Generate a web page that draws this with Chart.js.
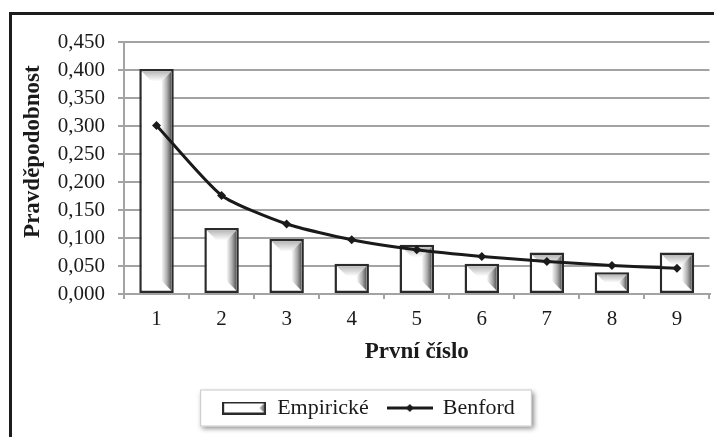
<!DOCTYPE html>
<html>
<head>
<meta charset="utf-8">
<script src="https://cdn.jsdelivr.net/npm/chart.js@4"></script>
<style>
  html, body { margin: 0; padding: 0; background: #fff; }
  #wrap { position: relative; width: 714px; height: 437px; overflow: hidden; }
  #frame { position: absolute; left: 9px; top: 12px; width: 740px; height: 460px;
           border-top: 3px solid #1c1c1c; border-left: 3px solid #1c1c1c; pointer-events: none; }
  canvas { position: absolute; left: 0; top: 0; }
</style>
</head>
<body>
<div id="wrap">
  <canvas id="chart" width="714" height="437"></canvas>
  <div id="frame"></div>
</div>
<script>
// First-digit distribution: observed shares vs. Benford's law
const categories = ['1', '2', '3', '4', '5', '6', '7', '8', '9'];
const empirical = [0.402, 0.118, 0.098, 0.054, 0.088, 0.054, 0.074, 0.039, 0.074];
const benford = [0.301, 0.176, 0.125, 0.097, 0.079, 0.067, 0.058, 0.051, 0.046];
const yTickLabels = ['0,000', '0,050', '0,100', '0,150', '0,200', '0,250', '0,300', '0,350', '0,400', '0,450'];
const seriesNames = ['Empirické', 'Benford'];
const xTitle = 'První číslo';
const yTitle = 'Pravděpodobnost';

const FONT = '"Liberation Serif", "Times New Roman", serif';
const INK = '#1a1a1a';
const GRID = '#a3a3a3';

// Small legend swatches drawn once on offscreen canvases
function barSwatch() {
  const c = document.createElement('canvas');
  c.width = 44; c.height = 13;
  const g = c.getContext('2d');
  g.fillStyle = '#2a2a2a'; g.fillRect(0, 0, 44, 13);
  g.fillStyle = '#fff'; g.fillRect(2, 2, 40, 9);
  const gr = g.createLinearGradient(35, 0, 42, 0);
  gr.addColorStop(0, '#ffffff'); gr.addColorStop(1, '#6a6a6a');
  g.fillStyle = gr;
  g.beginPath(); g.moveTo(42, 2); g.lineTo(42, 11); g.lineTo(37, 6.5); g.closePath(); g.fill();
  return c;
}
function lineSwatch() {
  const c = document.createElement('canvas');
  c.width = 46; c.height = 10;
  const g = c.getContext('2d');
  g.fillStyle = INK; g.fillRect(0, 3.5, 46, 3);
  g.beginPath(); g.moveTo(23, 1); g.lineTo(27, 5); g.lineTo(23, 9); g.lineTo(19, 5); g.closePath(); g.fill();
  return c;
}
const swatches = [barSwatch(), lineSwatch()];

// Bevelled look on the bars: shaded top and right edges inside the border
const bevelPlugin = {
  id: 'bevel',
  afterDatasetDraw(chart, args) {
    if (args.index !== 0) return;
    const ctx = chart.ctx;
    const bw = 2.5;
    args.meta.data.forEach(bar => {
      const p = bar.getProps(['x', 'y', 'base', 'width'], true);
      const l = p.x - p.width / 2 + bw, r = p.x + p.width / 2 - bw;
      const t = Math.min(p.y, p.base) + bw, btm = Math.max(p.y, p.base) - bw;
      const h = btm - t;
      if (h <= 0) return;
      const b = Math.min(10, h / 2, (r - l) / 2);
      ctx.save();
      let gr = ctx.createLinearGradient(0, t, 0, t + b);
      gr.addColorStop(0, '#b8b8b8'); gr.addColorStop(1, '#ffffff');
      ctx.fillStyle = gr;
      ctx.beginPath();
      ctx.moveTo(l, t); ctx.lineTo(r, t); ctx.lineTo(r - b, t + b); ctx.lineTo(l + b, t + b);
      ctx.closePath(); ctx.fill();
      gr = ctx.createLinearGradient(r - b, 0, r, 0);
      gr.addColorStop(0, '#ffffff'); gr.addColorStop(0.55, '#b0b0b0'); gr.addColorStop(1, '#555555');
      ctx.fillStyle = gr;
      ctx.beginPath();
      ctx.moveTo(r, t); ctx.lineTo(r, btm); ctx.lineTo(r - b, btm - b); ctx.lineTo(r - b, t + b);
      ctx.closePath(); ctx.fill();
      ctx.restore();
    });
  }
};

// Framed, shadowed box behind the legend items
const legendFrame = {
  id: 'legendFrame',
  beforeDraw(chart) {
    const hb = chart.legend && chart.legend.legendHitBoxes;
    if (!hb || !hb.length) return;
    const l = Math.min(...hb.map(b => b.left)) - 22;
    const r = Math.max(...hb.map(b => b.left + b.width)) + 17;
    const cy = hb[0].top + hb[0].height / 2;
    const t = cy - 18.5, h = 37;
    const ctx = chart.ctx;
    ctx.save();
    ctx.shadowColor = 'rgba(0,0,0,0.45)';
    ctx.shadowBlur = 5; ctx.shadowOffsetX = 2; ctx.shadowOffsetY = 2;
    ctx.fillStyle = '#fff';
    ctx.fillRect(l, t, r - l, h);
    ctx.restore();
    ctx.save();
    ctx.strokeStyle = '#c8c8c8'; ctx.lineWidth = 1;
    ctx.strokeRect(l + 0.5, t + 0.5, r - l - 1, h - 1);
    ctx.restore();
  }
};

// Vertical axis title, set a little above the middle of the axis
const yTitlePlugin = {
  id: 'yTitle',
  afterDraw(chart) {
    const ctx = chart.ctx, a = chart.chartArea;
    ctx.save();
    ctx.translate(33, a.top + (a.bottom - a.top) * 0.435);
    ctx.rotate(-Math.PI / 2);
    ctx.font = 'bold 23px ' + FONT;
    ctx.fillStyle = INK;
    ctx.textAlign = 'center';
    ctx.textBaseline = 'middle';
    ctx.fillText(yTitle, 0, 0);
    ctx.restore();
  }
};

new Chart(document.getElementById('chart'), {
  data: {
    labels: categories,
    datasets: [
      {
        type: 'bar',
        label: seriesNames[0],
        data: empirical,
        backgroundColor: '#ffffff',
        borderColor: '#2a2a2a',
        borderWidth: 2.5,
        borderSkipped: false,
        categoryPercentage: 1,
        barPercentage: 0.53,
        order: 2
      },
      {
        type: 'line',
        label: seriesNames[1],
        data: benford,
        borderColor: INK,
        backgroundColor: INK,
        borderWidth: 3,
        tension: 0.2,
        pointStyle: 'rectRot',
        pointRadius: 4.5,
        pointBorderWidth: 0,
        order: 1
      }
    ]
  },
  options: {
    responsive: false,
    devicePixelRatio: 1,
    animation: false,
    layout: { padding: { left: 27, top: 42, right: 4, bottom: 8 } },
    scales: {
      x: {
        offset: true,
        grid: { offset: true, drawOnChartArea: false, drawTicks: true, tickLength: 5, color: GRID, lineWidth: 2 },
        border: { color: GRID, width: 2 },
        ticks: { font: { family: FONT, size: 21 }, color: INK, padding: 8 },
        title: { display: true, text: xTitle, font: { family: FONT, size: 23, weight: 'bold' }, color: INK,
                 padding: { top: 0, bottom: 12 } },
        afterFit(s) { s.height = 84; }
      },
      y: {
        min: 0, max: 0.45,
        ticks: {
          stepSize: 0.05,
          autoSkip: false,
          font: { family: FONT, size: 21 }, color: INK, padding: 13,
          callback: (v) => yTickLabels[Math.round(v / 0.05)]
        },
        grid: { color: GRID, lineWidth: 2, tickLength: 6 },
        border: { color: GRID, width: 2 },
        afterFit(s) { s.width = 97; }
      }
    },
    plugins: {
      legend: {
        position: 'bottom',
        labels: {
          usePointStyle: true,
          pointStyleWidth: 44,
          boxHeight: 13,
          padding: 19,
          color: INK,
          font: { family: FONT, size: 22 },
          generateLabels: (chart) => chart.data.datasets.map((ds, i) => ({
            text: ds.label,
            pointStyle: swatches[i],
            datasetIndex: i,
            hidden: false,
            lineWidth: 0,
            fillStyle: '#fff',
            strokeStyle: '#fff',
            fontColor: INK
          }))
        }
      },
      tooltip: { enabled: false }
    }
  },
  plugins: [bevelPlugin, legendFrame, yTitlePlugin]
});
</script>
</body>
</html>
